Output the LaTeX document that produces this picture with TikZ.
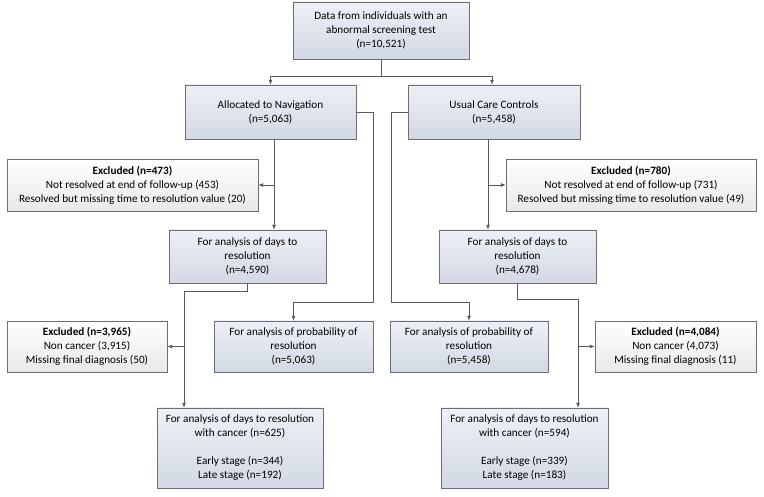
\documentclass[tikz,border=0pt]{standalone}
\usepackage{fontspec}
\setmainfont{Carlito}
\usetikzlibrary{arrows.meta,shadows}

\definecolor{boxtop}{HTML}{EDF0F6}
\definecolor{boxbot}{HTML}{D2D8E4}
\definecolor{exbot}{HTML}{E8E8E8}
\definecolor{edge}{HTML}{6E6E6E}

\begin{document}
\begin{tikzpicture}[x=1pt,y=-1pt]
   \tikzstyle{every node}=[font=\fontsize{11.2}{14}\selectfont, align=center, inner sep=2pt]
   \tikzstyle{stage}=[draw=edge, top color=boxtop, bottom color=boxbot,
      drop shadow={opacity=0.25, shadow xshift=1.2pt, shadow yshift=-1.2pt}]
   \tikzstyle{excl}=[draw=edge, top color=white, bottom color=exbot,
      drop shadow={opacity=0.25, shadow xshift=1.2pt, shadow yshift=-1.2pt}]
   \tikzstyle{arr}=[draw=black!65, line width=0.8pt, -{Latex[length=5pt,width=4pt]}]
   \useasboundingbox (0,0) rectangle (764,497);

\node[stage, minimum width=176pt, minimum height=57pt] (data) at (381,30.5)
    {Data from individuals with an\\abnormal screening test\\(n=10,521)};
\node[stage, minimum width=171pt, minimum height=54pt] (nav) at (270.5,112)
    {Allocated to Navigation\\(n=5,063)};
\node[stage, minimum width=172pt, minimum height=54pt] (uc) at (494,112)
    {Usual Care Controls\\(n=5,458)};

\node[excl, minimum width=251pt, minimum height=52pt] (exnav) at (132.5,185)
    {\textbf{Excluded (n=473)}\\Not resolved at end of follow-up (453)\\Resolved but missing time to resolution value (20)};
\node[excl, minimum width=250pt, minimum height=52pt] (exuc) at (631,185)
    {\textbf{Excluded (n=780)}\\Not resolved at end of follow-up (731)\\Resolved but missing time to resolution value (49)};

\node[stage, minimum width=157pt, minimum height=53pt] (daysnav) at (247.5,256.5)
    {For analysis of days to\\resolution\\(n=4,590)};
\node[stage, minimum width=157pt, minimum height=53pt] (daysuc) at (517.5,256.5)
    {For analysis of days to\\resolution\\(n=4,678)};

\node[excl, minimum width=160pt, minimum height=51pt] (excnav) at (87,346.5)
    {\textbf{Excluded (n=3,965)}\\Non cancer (3,915)\\Missing final diagnosis (50)};
\node[stage, minimum width=159pt, minimum height=51pt] (probnav) at (293.5,346.5)
    {For analysis of probability of\\resolution\\(n=5,063)};
\node[stage, minimum width=158pt, minimum height=51pt] (probuc) at (469,346.5)
    {For analysis of probability of\\resolution\\(n=5,458)};
\node[excl, minimum width=161pt, minimum height=51pt] (excuc) at (675.5,346.5)
    {\textbf{Excluded (n=4,084)}\\Non cancer (4,073)\\Missing final diagnosis (11)};

\node[stage, minimum width=166pt, minimum height=80pt] (cannav) at (240,448)
    {For analysis of days to resolution\\with cancer (n=625)\\[14pt]Early stage (n=344)\\Late stage (n=192)};
\node[stage, minimum width=167pt, minimum height=80pt] (canuc) at (524.5,448)
    {For analysis of days to resolution\\with cancer (n=594)\\[14pt]Early stage (n=339)\\Late stage (n=183)};

% stems
\coordinate (navstem) at ([xshift=3.5pt]nav.south);
\coordinate (ucstem) at ([xshift=-6pt]uc.south);
\coordinate (cnavstem) at ([xshift=-56pt]cannav.north);
\coordinate (cucstem) at ([xshift=53.5pt]canuc.north);

% split
\draw[arr] (data.south) -- ++(0,17) -| (nav.north);
\draw[arr] (data.south) -- ++(0,17) -| ([xshift=-2pt]uc.north);

% first exclusions
\draw[arr] (navstem) -- (navstem |- daysnav.north);
\draw[arr] (navstem |- exnav.east) -- (exnav.east);
\draw[arr] (ucstem) -- (ucstem |- daysuc.north);
\draw[arr] (ucstem |- exuc.west) -- (exuc.west);

% probability
\draw[arr] (nav.east) -| ([yshift=18pt]probnav.north east) -| (probnav.north);
\draw[arr] (uc.west) -| ([xshift=2pt,yshift=18pt]probuc.north west) -| (probuc.north);

% cancer
\draw[arr] (daysnav.south) -- ++(0,8) -| (cnavstem);
\draw[arr] (cnavstem |- excnav.east) -- (excnav.east);
\draw[arr] (daysuc.south) -- ++(0,16.5) -| (cucstem);
\draw[arr] (cucstem |- excuc.west) -- (excuc.west);

\end{tikzpicture}
\end{document}
